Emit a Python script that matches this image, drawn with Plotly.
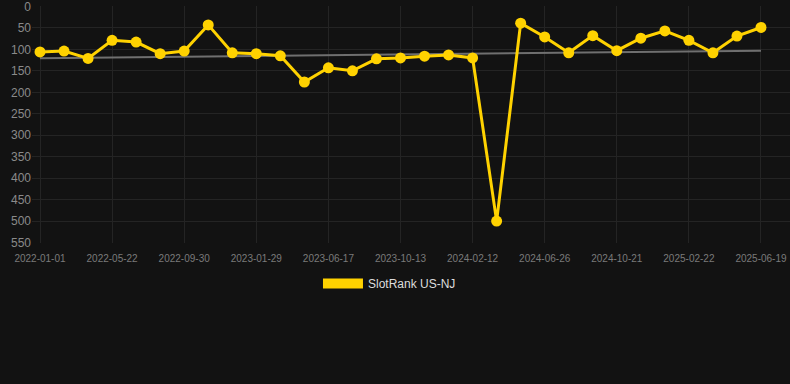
import numpy as np
import plotly.graph_objects as go

dates = [
    "2022-01-01", "2022-02-17", "2022-04-05", "2022-05-22", "2022-07-04", "2022-08-17",
    "2022-09-30", "2022-11-09", "2022-12-20", "2023-01-29", "2023-03-18", "2023-05-02",
    "2023-06-17", "2023-07-27", "2023-09-04", "2023-10-13", "2023-11-22", "2024-01-02",
    "2024-02-12", "2024-03-27", "2024-05-11", "2024-06-26", "2024-08-05", "2024-09-13",
    "2024-10-21", "2024-12-01", "2025-01-12", "2025-02-22", "2025-04-06", "2025-05-13",
    "2025-06-19",
]
ranks = [106, 104, 121, 79, 83, 110, 104, 43, 108, 110, 115, 176, 143, 150, 122, 120,
         116, 113, 120, 500, 39, 71, 108, 68, 103, 74, 57, 79, 108, 69, 49]
tick_labels = dates[::3]
y_ticks = [0, 50, 100, 150, 200, 250, 300, 350, 400, 450, 500, 550]
series_name = "SlotRank US-NJ"

idx = np.arange(len(ranks))
slope, intercept = np.polyfit(idx, ranks, 1)
trend = slope * idx + intercept

GOLD = "#FFD200"
fig = go.Figure()
fig.add_trace(go.Scatter(
    x=idx, y=trend, mode="lines", line=dict(color="#6f6f6f", width=2),
    showlegend=False, hoverinfo="skip"))
fig.add_trace(go.Scatter(
    x=idx, y=ranks, mode="lines+markers", name=series_name,
    line=dict(color=GOLD, width=3), marker=dict(color=GOLD, size=11),
    text=dates, hovertemplate="%{text}: %{y}<extra></extra>",
    showlegend=False, cliponaxis=False))
fig.add_trace(go.Scatter(
    x=[None], y=[None], mode="lines", name=series_name,
    line=dict(color=GOLD, width=10), showlegend=True))

fig.update_layout(
    width=790, height=384,
    paper_bgcolor="#121212", plot_bgcolor="#121212",
    margin=dict(l=32, r=0, t=6, b=141),
    font=dict(family="Liberation Sans, Arial, sans-serif", color="#8a8a8a"),
    legend=dict(orientation="h", x=0.4716, xanchor="center", y=-0.11, yanchor="top",
                font=dict(size=12, color="#dddddd"), itemwidth=40),
    xaxis=dict(range=[-0.333, 31.207], tickvals=list(idx[::3]), ticktext=tick_labels,
               showgrid=True, gridcolor="#242424", zeroline=False, showline=False,
               tickfont=dict(size=10, color="#7a7a7a"), ticks="", ticklen=0,
               ticklabelstandoff=8),
    yaxis=dict(range=[551, -1], tickvals=y_ticks, showgrid=True, gridcolor="#242424",
               zeroline=False, showline=False, tickfont=dict(size=12, color="#8a8a8a"),
               ticks="", ticklen=0, ticklabeloverflow="allow"),
)
fig.write_html("out.html", config={"displayModeBar": False},
               post_script="document.body.style.margin='0';document.body.style.background='#121212';")
